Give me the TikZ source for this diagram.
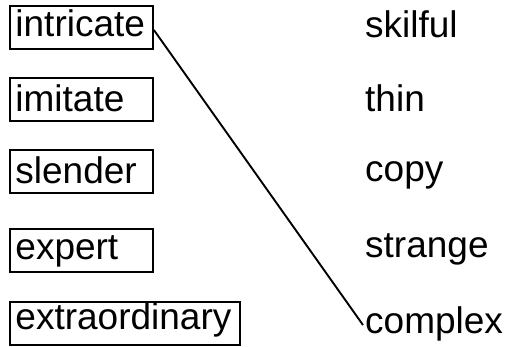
\documentclass[tikz,border=0pt]{standalone}
\usepackage{fontspec}
\setmainfont{Liberation Sans}
\newcommand{\lbox}[2]{\makebox[#1][l]{#2}}
\begin{document}
\begin{tikzpicture}[x=1pt,y=-1pt,
  wordfont/.style={font=\fontsize{37}{40}\selectfont},
  wordbox/.style={wordfont,draw,line width=1.9pt,anchor=north west,inner xsep=5.5pt,inner ysep=0pt,
    text height=#1,text depth=43pt-#1},
  wordbox/.default=31pt,
  answer/.style={wordfont,anchor=base west,inner sep=0pt},
  link/.style={line width=1.9pt}]
\useasboundingbox (0,0) rectangle (509,347);
\node[wordbox=31pt] (intricate) at (9,5) {\lbox{132pt}{intricate}};
\node[wordbox=34pt] (imitate) at (9,77) {\lbox{132pt}{imitate}};
\node[wordbox=34pt] (slender) at (9,149) {\lbox{132pt}{slender}};
\node[wordbox=31pt] (expert) at (9,228) {\lbox{132pt}{expert}};
\node[wordbox=28pt] (extraordinary) at (9,301) {\lbox{219pt}{extraordinary}};
\node[answer] (skilful) at (365,38) {skilful};
\node[answer] (thin) at (365,112) {thin};
\node[answer] (copy) at (365,182) {copy};
\node[answer] (strange) at (365,258) {strange};
\node[answer] (complex) at (365,334) {complex};
\coordinate (cend) at ([xshift=-2pt,yshift=9pt]complex.base west);
\draw[link] ([yshift=-25pt]intricate.north east) -- (cend);
\end{tikzpicture}
\end{document}
